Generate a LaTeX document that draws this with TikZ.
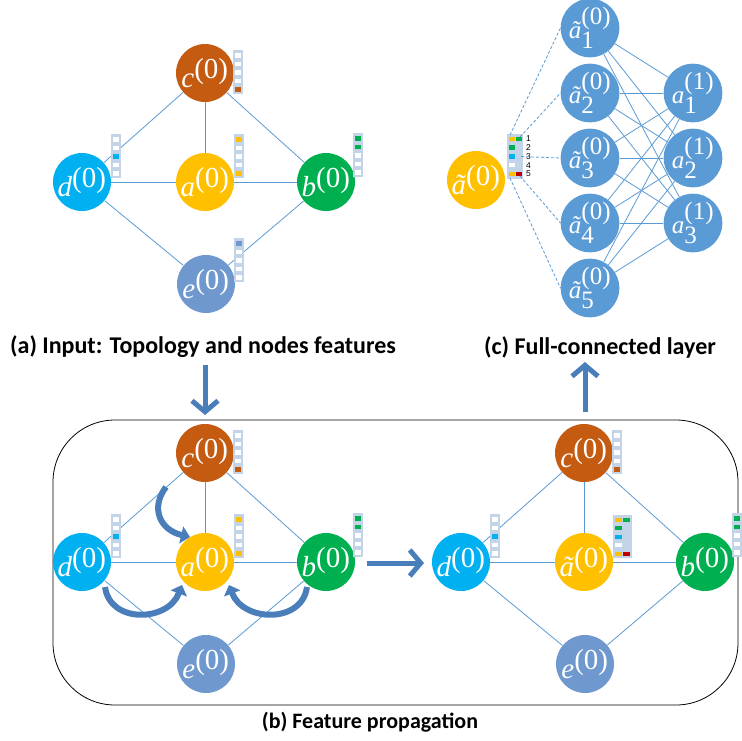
\documentclass[tikz,border=0pt]{standalone}
\usepackage{fontspec}
\setmainfont{Liberation Serif}
\newfontfamily\calib{Carlito}
\newfontfamily\arialf{Liberation Sans}
\newfontfamily\lserif{Liberation Serif}
\usetikzlibrary{arrows.meta}
\definecolor{corange}{HTML}{C55A11}
\definecolor{ccyan}{HTML}{00B0F0}
\definecolor{cyellow}{HTML}{FFC000}
\definecolor{cgreen}{HTML}{00B050}
\definecolor{cebl}{HTML}{6F98CE}
\definecolor{cfc}{HTML}{5B9BD5}
\definecolor{cedge}{HTML}{5B9BD5}
\definecolor{carrow}{HTML}{4A7EBB}
\definecolor{cred}{HTML}{C00000}
\definecolor{barbg}{HTML}{C3D3E8}
\newcommand\lbl[2]{{\lserif\itshape #1}$^{\textrm{(#2)}}$}
\newcommand\lbs[3]{{\lserif\itshape #1}$^{\textrm{(#2)}}_{\textrm{#3}}$}
\newcommand\fbar[3]{%
  \fill[barbg] (#1,#2) rectangle ++(9.5,44);
  \foreach \cc [count=\i] in {#3} {\fill[\cc] (#1+1.5,#2+3+\i*8.5-8.5) rectangle ++(6.5,4.6);}
}
\tikzset{
  gn/.style={circle, minimum size=58pt, inner sep=0pt, text=white, font=\fontsize{29}{29}\selectfont},
  fcn/.style={circle, minimum size=50pt, inner sep=0pt, text=white, fill=cfc, font=\fontsize{25}{25}\selectfont},
  edge/.style={draw=cedge, line width=0.8pt},
  dedge/.style={draw=cedge, line width=0.8pt, dash pattern=on 3pt off 2pt},
  bigarr/.style={draw=carrow, line width=5pt, -{Straight Barb[length=11pt,width=26pt]}},
  curarr/.style={draw=carrow, line width=6pt, -{Triangle[length=9pt,width=17pt]}},
  title/.style={font=\calib\bfseries\fontsize{24}{26}\selectfont, inner sep=0pt}
}
\begin{document}
\begin{tikzpicture}[x=1pt,y=-1pt]
\useasboundingbox (0,0) rectangle (742,740);
\fill[white] (0,0) rectangle (742,740);

% ---------- (a) top-left graph ----------
\node[gn, fill=corange] (c1) at (205,73) {\lbl{c}{0}};
\node[gn, fill=ccyan] (d1) at (82,182) {\lbl{d}{0}};
\node[gn, fill=cyellow] (a1) at (205,182) {\lbl{a}{0}};
\node[gn, fill=cgreen] (b1) at (326,182) {\lbl{b}{0}};
\node[gn, fill=cebl] (e1) at (206,284) {\lbl{e}{0}};
\draw[edge] (c1) -- (d1);
\draw[edge] (c1) -- (b1);
\draw[edge] (c1) -- (a1);
\draw[edge] (d1) -- (a1);
\draw[edge] (a1) -- (b1);
\draw[edge] (d1) -- (e1);
\draw[edge] (e1) -- (b1);
\fbar{233}{50}{white,white,white,white,corange}
\fbar{111}{134}{white,white,ccyan,white,white}
\fbar{234}{134}{cyellow,white,white,white,cyellow}
\fbar{353}{133}{cgreen,cgreen,white,white,white}
\fbar{234}{238}{cebl,white,white,white,white}

\node[title] (ta) at (203,347) {(a) Input: Topology and nodes features};

% ---------- (c) full-connected layer ----------
\node[gn, fill=cyellow] (at) at (476,180) {\lbl{\~{a}}{0}};
\foreach \i in {1,...,5} {
  \node[fcn] (t\i) at (590,{28+65*(\i-1)}) {\lbs{\~{a}}{0}{\i}};
}
\foreach \j in {1,2,3} {
  \node[fcn] (o\j) at (693,{93+65*(\j-1)}) {\lbs{a}{1}{\j}};
}
\foreach \i in {1,...,5} {\foreach \j in {1,2,3} {\draw[edge] (t\i) -- (o\j);}}
% feature bar
\begin{scope}[shift={(507,134)}]
  \fill[barbg] (0,0) rectangle (16,45);
  \fill[cyellow] (1.5,2.5) rectangle ++(6,4.5);
  \fill[cgreen] (8.5,2.5) rectangle ++(6,4.5);
  \fill[cgreen] (1.5,11.3) rectangle ++(6,4.5);
  \fill[ccyan] (1.5,20.1) rectangle ++(6,4.5);
  \fill[white] (1.5,28.9) rectangle ++(6,4.5);
  \fill[cyellow] (1.5,37.7) rectangle ++(6,4.5);
  \fill[cred] (8.5,37.7) rectangle ++(6,4.5);
  \foreach \i in {1,...,5} {\node[font=\arialf\fontsize{8.5}{9}\selectfont, inner sep=0pt, anchor=west] (n\i) at (19,{4.8+8.8*(\i-1)}) {\i};}
  \coordinate (p1) at (3,1);
  \coordinate (p2) at (13,3);
  \coordinate (p3) at (14,22.5);
  \coordinate (p4) at (13,42);
  \coordinate (p5) at (3,44);
\end{scope}
\draw[dedge] (p1) -- (t1.west);
\draw[dedge] (p2) -- (t2.west);
\draw[dedge] (p3) -- (t3.west);
\draw[dedge] (p4) -- (t4.west);
\draw[dedge] (p5) -- (t5.west);

\node[title] (tc) at (600,347) {(c) Full-connected layer};

% ---------- big arrows ----------
\coordinate (da0) at (205,365);
\coordinate (da1) at (205,415);
\draw[bigarr] (da0) -- (da1);
\coordinate (ua0) at (585,412);
\coordinate (ua1) at (585,362);
\draw[bigarr] (ua0) -- (ua1);

% ---------- (b) panel ----------
\draw[black, line width=0.8pt, rounded corners=62pt] (53,420) rectangle (738,705);
\node[title, font=\calib\bfseries\fontsize{22}{24}\selectfont] (tb) at (370,722) {(b) Feature propagation};

% left graph
\node[gn, fill=corange] (c2) at (205,453) {\lbl{c}{0}};
\node[gn, fill=ccyan] (d2) at (82,562) {\lbl{d}{0}};
\node[gn, fill=cyellow] (a2) at (205,562) {\lbl{a}{0}};
\node[gn, fill=cgreen] (b2) at (326,562) {\lbl{b}{0}};
\node[gn, fill=cebl] (e2) at (206,664) {\lbl{e}{0}};
\draw[edge] (c2) -- (d2);
\draw[edge] (c2) -- (b2);
\draw[edge] (c2) -- (a2);
\draw[edge] (d2) -- (a2);
\draw[edge] (a2) -- (b2);
\draw[edge] (d2) -- (e2);
\draw[edge] (e2) -- (b2);
\fbar{233}{430}{white,white,white,white,corange}
\fbar{111}{514}{white,white,ccyan,white,white}
\fbar{234}{514}{cyellow,white,white,white,cyellow}
\fbar{353}{513}{cgreen,cgreen,white,white,white}

% curved arrows
\coordinate (k1s) at (166,487);
\coordinate (k1e) at (190,537);
\draw[curarr] (k1s) .. controls (150,508) and (160,530) .. (k1e);
\coordinate (k2s) at (105,587);
\coordinate (k2e) at (182,585);
\draw[curarr] (k2s) .. controls (110,624) and (168,622) .. (k2e);
\coordinate (k3s) at (307,587);
\coordinate (k3e) at (229,585);
\draw[curarr] (k3s) .. controls (302,624) and (243,622) .. (k3e);

% arrow between graphs
\coordinate (ra0) at (367,563);
\coordinate (ra1) at (424,563);
\draw[bigarr] (ra0) -- (ra1);

% right graph
\node[gn, fill=corange] (c3) at (584,453) {\lbl{c}{0}};
\node[gn, fill=ccyan] (d3) at (461,562) {\lbl{d}{0}};
\node[gn, fill=cyellow] (a3) at (584,562) {\lbl{\~{a}}{0}};
\node[gn, fill=cgreen] (b3) at (705,562) {\lbl{b}{0}};
\node[gn, fill=cebl] (e3) at (585,664) {\lbl{e}{0}};
\draw[edge] (c3) -- (d3);
\draw[edge] (c3) -- (b3);
\draw[edge] (c3) -- (a3);
\draw[edge] (d3) -- (a3);
\draw[edge] (a3) -- (b3);
\draw[edge] (d3) -- (e3);
\draw[edge] (e3) -- (b3);
\fbar{612}{430}{white,white,white,white,corange}
\fbar{490}{514}{white,white,ccyan,white,white}
\fbar{732}{513}{cgreen,cgreen,white,white,white}
\begin{scope}[shift={(613,515)}]
  \fill[barbg] (0,0) rectangle (19,43);
  \fill[cyellow] (2,2.5) rectangle ++(7,4.3);
  \fill[cgreen] (10,2.5) rectangle ++(7,4.3);
  \fill[cgreen] (2,11) rectangle ++(7,4.3);
  \fill[ccyan] (2,19.5) rectangle ++(7,4.3);
  \fill[white] (2,28) rectangle ++(7,4.3);
  \fill[cyellow] (2,36.5) rectangle ++(7,4.3);
  \fill[cred] (10,36.5) rectangle ++(7,4.3);
\end{scope}
\end{tikzpicture}
\end{document}
